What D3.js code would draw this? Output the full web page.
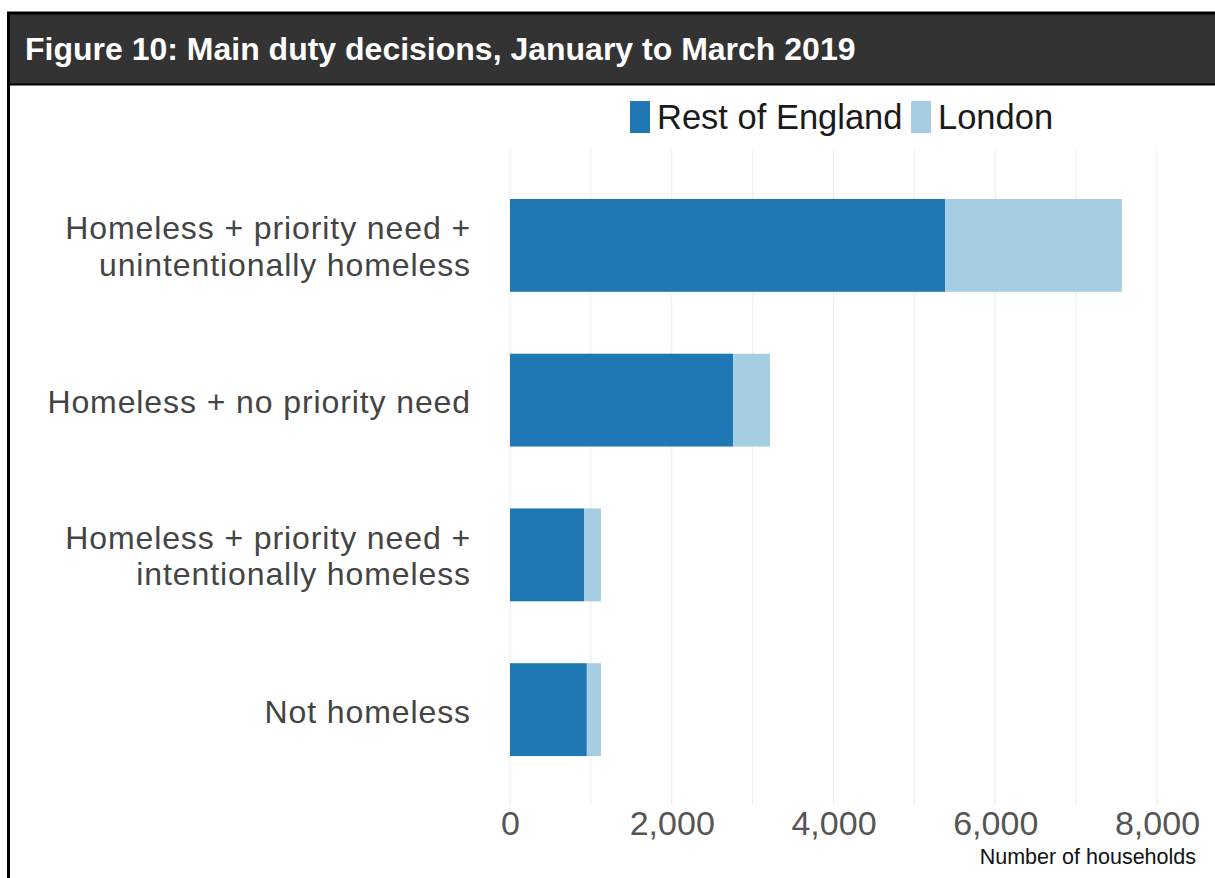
<!DOCTYPE html>
<html lang="en">
<head>
<meta charset="utf-8">
<title>Main duty decisions</title>
<script src="https://d3js.org/d3.v7.min.js"></script>
<style>
    body { margin: 0; background: #fff; }
    svg { display: block; font-family: "Liberation Sans", Arial, sans-serif; }
</style>
</head>
<body>
<div id="chart"></div>
<script>
var WIDTH = 1215;
var HEIGHT = 878;

var categories = [
    ["Homeless + priority need +", "unintentionally homeless"],
    ["Homeless + no priority need"],
    ["Homeless + priority need +", "intentionally homeless"],
    ["Not homeless"]
];
var series = ["Rest of England", "London"];
var restOfEngland = [5380, 2760, 915, 950];
var london = [2185, 455, 210, 175];
var ticks = [0, 2000, 4000, 6000, 8000];
var colours = ["#1f77b4", "#a6cee3"];

const svg = d3.select("#chart")
    .append("svg")
    .attr("width", WIDTH)
    .attr("height", HEIGHT);

// frame + title bar
svg.append("rect")
    .attr("x", 7).attr("y", 12)
    .attr("width", WIDTH).attr("height", 73)
    .attr("fill", "#333333");
svg.append("line")
    .attr("x1", 7).attr("x2", WIDTH).attr("y1", 13).attr("y2", 13)
    .attr("stroke", "#000").attr("stroke-width", 3);
svg.append("line")
    .attr("x1", 7).attr("x2", WIDTH).attr("y1", 84.5).attr("y2", 84.5)
    .attr("stroke", "#000").attr("stroke-width", 2);
svg.append("line")
    .attr("x1", 8.5).attr("x2", 8.5).attr("y1", 12).attr("y2", HEIGHT)
    .attr("stroke", "#000").attr("stroke-width", 3);
svg.append("text")
    .attr("x", 25).attr("y", 60)
    .attr("fill", "#fff")
    .attr("font-weight", "bold")
    .attr("font-size", 32)
    .text("Figure 10: Main duty decisions, January to March 2019");

var x = d3.scaleLinear().domain([0, 8000]).range([510, 1157]);
var y = d3.scaleBand().domain(d3.range(categories.length))
    .range([168, 787]).paddingInner(0.4).paddingOuter(0.2);

// gridlines
svg.append("g").selectAll("line")
    .data(d3.range(0, 8001, 1000))
    .join("line")
    .attr("x1", d => x(d)).attr("x2", d => x(d))
    .attr("y1", 150).attr("y2", 805)
    .attr("stroke", "#ececec").attr("stroke-width", 1);

// stacked bars
var rows = categories.map((c, i) => ({ i: i, rest: restOfEngland[i], london: london[i] }));
var stack = d3.stack().keys(["rest", "london"])(rows);

svg.append("g").selectAll("g")
    .data(stack)
    .join("g")
    .attr("fill", (d, i) => colours[i])
    .selectAll("rect")
    .data(d => d)
    .join("rect")
    .attr("x", d => x(d[0]))
    .attr("width", d => x(d[1]) - x(d[0]))
    .attr("y", d => y(d.data.i))
    .attr("height", y.bandwidth());

// category labels
var labels = svg.append("g").selectAll("text")
    .data(categories)
    .join("text")
    .attr("text-anchor", "end")
    .attr("fill", "#444")
    .attr("font-size", 32)
    .attr("letter-spacing", "0.9px")
    .attr("y", (d, i) => y(i) + y.bandwidth() / 2);
labels.selectAll("tspan")
    .data(d => d.map((t, j) => ({ t: t, j: j, n: d.length })))
    .join("tspan")
    .attr("x", 471)
    .attr("dy", d => d.j === 0 ? (-(d.n - 1) * 19 + 13) + "px" : "36.5px")
    .text(d => d.t);

// x axis
var axis = svg.append("g")
    .attr("transform", "translate(0,805)")
    .call(d3.axisBottom(x).tickValues(ticks).tickSize(0).tickPadding(6)
        .tickFormat(d3.format(",")));
axis.select(".domain").remove();
axis.selectAll("text")
    .attr("font-family", "Liberation Sans, Arial, sans-serif")
    .attr("font-size", 34)
    .attr("fill", "#555");

svg.append("text")
    .attr("x", 1196).attr("y", 864)
    .attr("text-anchor", "end")
    .attr("font-size", 21.5)
    .attr("fill", "#111")
    .text("Number of households");

// legend
var legendX = [630, 911];
var legend = svg.append("g").selectAll("g")
    .data(series)
    .join("g")
    .attr("transform", (d, i) => "translate(" + legendX[i] + ",101)");
legend.append("rect")
    .attr("width", 20).attr("height", 32)
    .attr("fill", (d, i) => colours[i]);
legend.append("text")
    .attr("x", 27).attr("y", 28)
    .attr("font-size", 34.5)
    .attr("fill", "#1a1a1a")
    .text(d => d);
</script>
</body>
</html>
